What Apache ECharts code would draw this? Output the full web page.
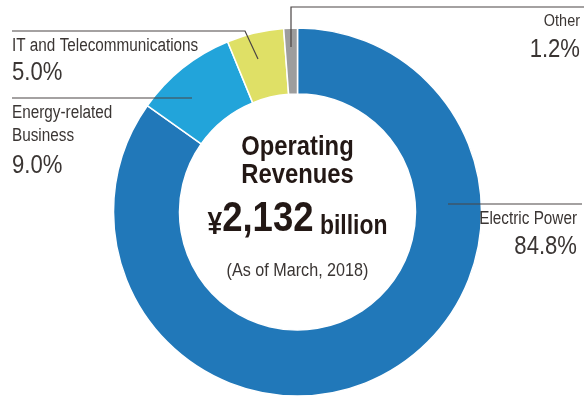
<!DOCTYPE html>
<html>
<head>
<meta charset="utf-8">
<script src="https://cdn.jsdelivr.net/npm/echarts@6/dist/echarts.min.js"></script>
<style>
  html, body { margin: 0; padding: 0; background: #fff; }
  #chart { width: 584px; height: 396px; }
</style>
</head>
<body>
<div id="chart"></div>
<script>
// Operating revenue breakdown by segment (share of total, %)
const segments = ['Electric Power', 'Energy-related Business', 'IT and Telecommunications', 'Other'];
const shares = [84.8, 9.0, 5.0, 1.2];
const segmentColors = ['#2178b9', '#22a4da', '#dfe066', '#9d9d9d'];

const totalLabel = '¥2,132 billion';
const asOfLabel = '(As of March, 2018)';

// A condensed sans look: regular sans squeezed horizontally
const FONT = "'Liberation Sans', Arial, sans-serif";
const SQUEEZE = 0.85;
const TEXT = '#3a3533';
const DARK = '#231815';
const LINE = '#4a4444';

const chart = echarts.init(document.getElementById('chart'), null, { renderer: 'canvas' });

function txt(text, x, y, size, align, weight, color) {
  return {
    type: 'text', z: 10,
    x: x, y: y, scaleX: SQUEEZE,
    style: {
      text: text, x: 0, y: 0,
      font: (weight || 'normal') + ' ' + size + 'px ' + FONT,
      fill: color || TEXT,
      textAlign: align || 'left',
      textVerticalAlign: 'middle'
    }
  };
}
function line(points) {
  return {
    type: 'polyline', z: 5,
    shape: { points: points },
    style: { stroke: LINE, lineWidth: 1.2, fill: null }
  };
}

const pct = v => v.toFixed(1) + '%';
const [yen, rest] = [totalLabel.slice(0, 1), totalLabel.slice(1)];
const [amount, unit] = rest.split(' ');

chart.setOption({
  animation: false,
  series: [{
    type: 'pie',
    center: [297.5, 212],
    radius: [118, 184],
    startAngle: 90,
    clockwise: true,
    silent: true,
    label: { show: false },
    labelLine: { show: false },
    itemStyle: { borderColor: '#fff', borderWidth: 1.5 },
    data: segments.map((name, i) => ({
      name: name, value: shares[i], itemStyle: { color: segmentColors[i] }
    }))
  }],
  graphic: [
    // leader lines
    line([[291, 47], [291, 7], [584, 7]]),
    line([[12, 31], [245, 31], [258, 59]]),
    line([[12, 98], [192, 98]]),
    line([[448, 204], [582, 204]]),

    // segment labels
    txt('Other', 580, 21, 17, 'right'),
    txt(pct(shares[3]), 580, 50, 26, 'right'),
    txt('IT and Telecommunications', 12, 46.5, 18, 'left'),
    txt(pct(shares[2]), 12, 72.5, 26, 'left'),
    txt('Energy-related', 12, 113.5, 18, 'left'),
    txt('Business', 12, 136, 18, 'left'),
    txt(pct(shares[1]), 12, 166, 26, 'left'),
    txt('Electric Power', 577, 219.5, 18, 'right'),
    txt(pct(shares[0]), 577, 247, 26, 'right'),

    // center caption
    txt('Operating', 297.5, 147, 28, 'center', 'bold', DARK),
    txt('Revenues', 297.5, 175, 28, 'center', 'bold', DARK),
    {
      type: 'text', z: 10,
      x: 297.5, y: 219, scaleX: SQUEEZE,
      style: {
        x: 0, y: 0,
        textAlign: 'center', textVerticalAlign: 'middle',
        fill: DARK,
        rich: {
          yen: { font: 'bold 31px ' + FONT, fill: DARK, verticalAlign: 'bottom' },
          num: { font: 'bold 43px ' + FONT, fill: DARK, verticalAlign: 'bottom' },
          unit: { font: 'bold 27px ' + FONT, fill: DARK, verticalAlign: 'bottom' }
        },
        text: '{yen|' + yen + '}{num|' + amount + '}{unit| ' + unit + '}'
      }
    },
    txt(asOfLabel, 297.5, 271, 19, 'center', 'normal', TEXT)
  ]
});
</script>
</body>
</html>
